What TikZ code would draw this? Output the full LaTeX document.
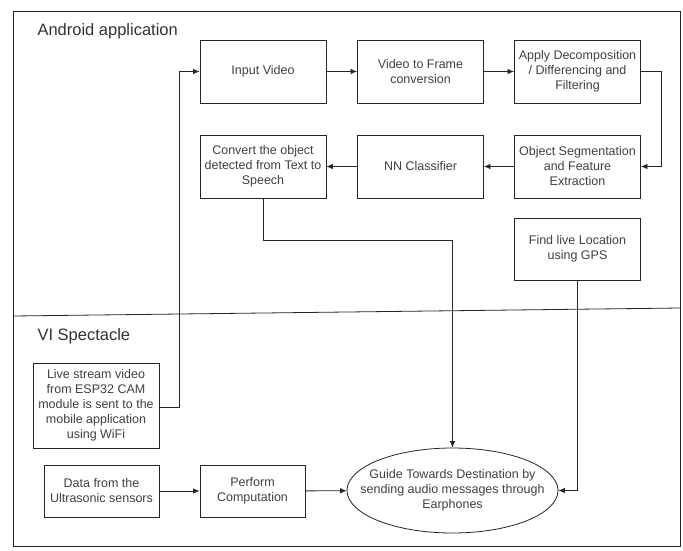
\documentclass[tikz,border=0pt]{standalone}
\usepackage{fontspec}
\setmainfont{Liberation Sans}
\setsansfont{Liberation Sans}
\usetikzlibrary{arrows.meta,shapes.geometric}
\begin{document}
\begin{tikzpicture}[x=1pt,y=-1pt,
  box/.style={draw=black!85,line width=0.8pt,minimum width=126pt,minimum height=63pt,inner sep=2pt,align=center,text=black!75,font=\fontsize{12.5}{15}\selectfont},
  ell/.style={ellipse,draw=black!85,line width=0.8pt,minimum width=211pt,minimum height=85pt,inner sep=0pt},
  lbl/.style={align=center,text=black!75,font=\fontsize{12.5}{15}\selectfont,inner sep=0pt},
  conn/.style={draw=black!85,line width=0.8pt,-{Latex[length=6.5pt,width=5.5pt]}},
  lane/.style={text=black!80,font=\fontsize{16.5}{19}\selectfont,anchor=west}]
\useasboundingbox (0,0) rectangle (683,550);
\fill[white] (0,0) rectangle (683,550);
% frame
\draw[black!85,line width=0.8pt] (13,11) rectangle (680,546);
\draw[black!85,line width=0.8pt] (13,316) -- (680,308);
\node[lane] (t1) at (34,31) {Android application};
\node[lane] (t2) at (34,336) {VI Spectacle};
% nodes
\node[box] (inp) at (263,71.5) {Input Video};
\node[box] (v2f) at (420.5,71.5) {Video to Frame\\conversion};
\node[box] (dec) at (577.5,71.5) {Apply Decomposition\\/ Differencing and\\Filtering};
\node[box] (conv) at (263,166.5) {Convert the object\\detected from Text to\\Speech};
\node[box] (nn) at (420.5,166.5) {NN Classifier};
\node[box] (seg) at (577.5,166.5) {Object Segmentation\\and Feature\\Extraction};
\node[box,minimum height=62pt] (gps) at (577.5,249) {Find live Location\\using GPS};
\node[box,minimum width=126pt,minimum height=85pt] (live) at (96,405.5) {Live stream video\\from ESP32 CAM\\module is sent to the\\mobile application\\using WiFi};
\node[box,minimum width=115pt,minimum height=52pt] (data) at (101.5,491) {Data from the\\Ultrasonic sensors};
\node[box,minimum width=105pt,minimum height=52pt] (perf) at (252.5,491) {Perform\\Computation};
\node[ell] (goal) at (452.5,490.5) {};
\node[lbl] (goaltext) at (goal.center) {Guide Towards Destination by\\sending audio messages through\\Earphones};
% connectors
\coordinate (c1) at (661,71.5);
\coordinate (c2) at (661,166.5);
\coordinate (c3) at (263,240);
\coordinate (c4) at (452.5,240);
\coordinate (c5) at (577.5,490.5);
\coordinate (c6) at (179,407);
\coordinate (c7) at (179,71.5);
\draw[conn] (inp) -- (v2f);
\draw[conn] (v2f) -- (dec);
\draw[conn] (dec.east) -- (c1) -- (c2) -- (seg.east);
\draw[conn] (seg) -- (nn);
\draw[conn] (nn) -- (conv);
\draw[conn] (conv.south) -- (c3) -- (c4) -- (goal.north);
\draw[conn] (gps.south) -- (c5) -- (goal.east);
\draw[conn] (live.east |- c6) -- (c6) -- (c7) -- (inp.west);
\draw[conn] (data) -- (perf);
\draw[conn] (perf) -- (goal);
\end{tikzpicture}
\end{document}
